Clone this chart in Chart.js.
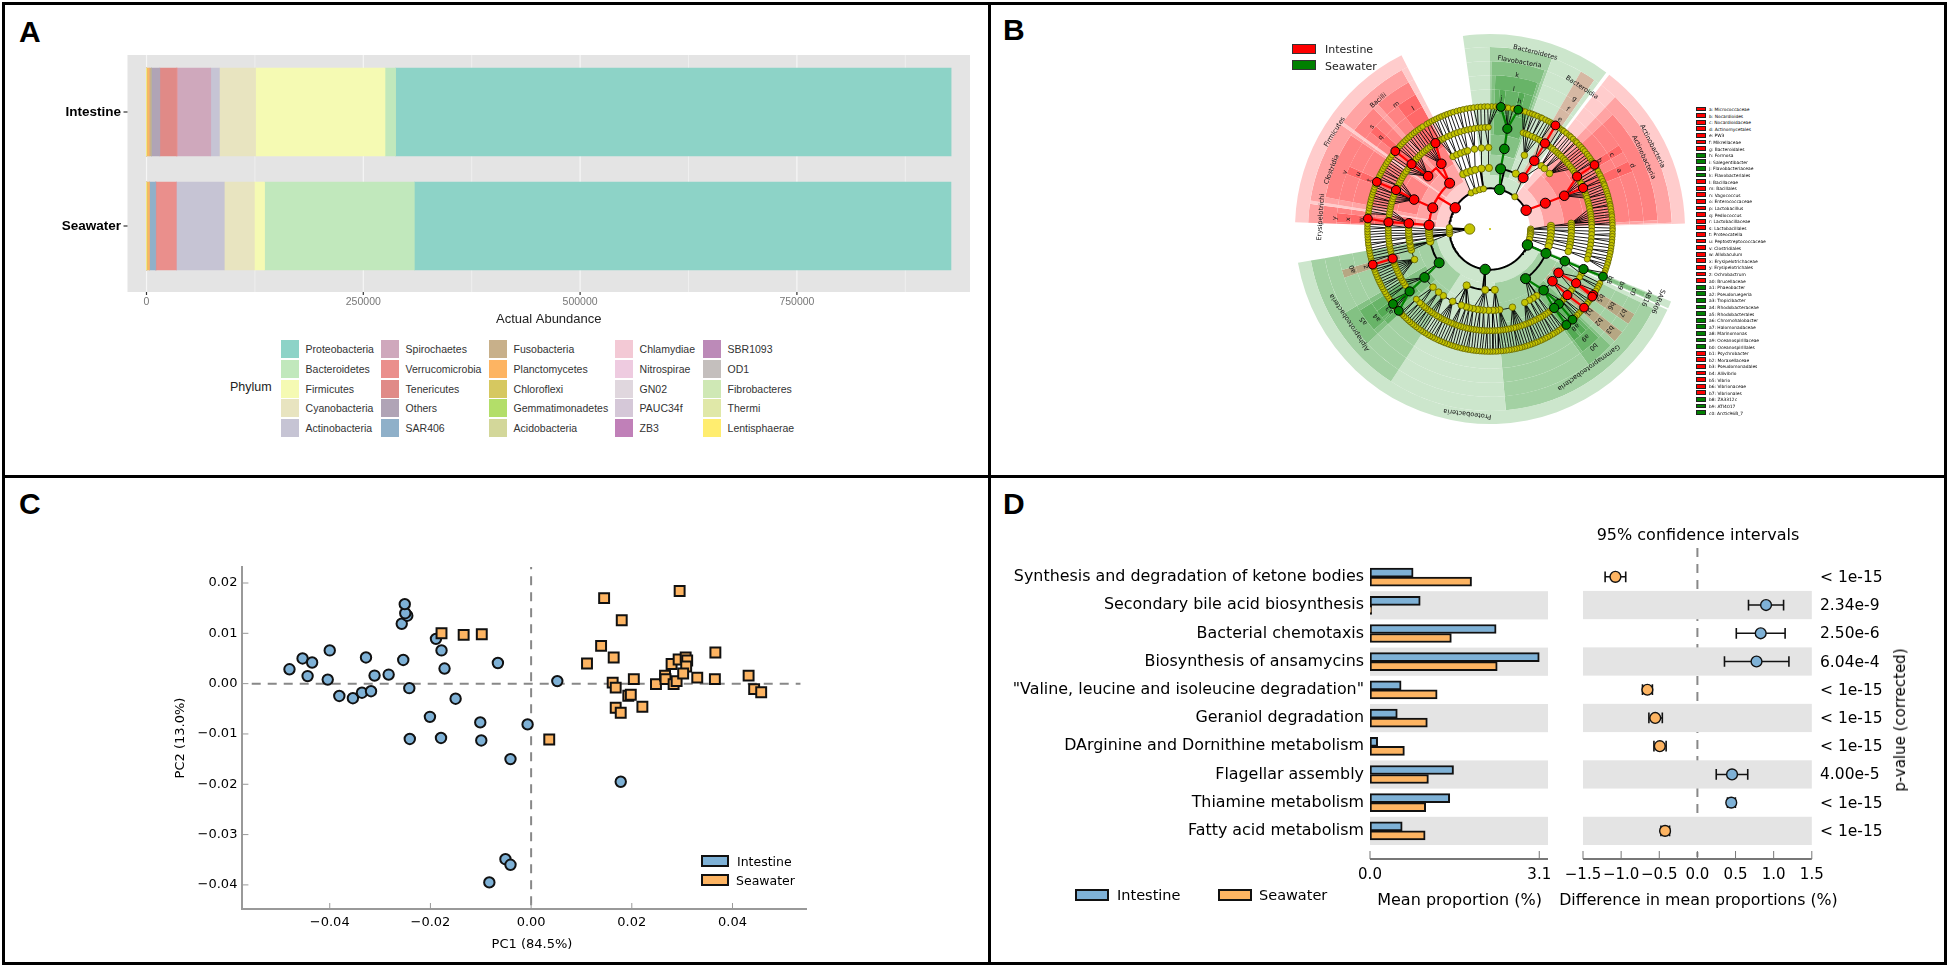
<!DOCTYPE html>
<html>
<head>
<meta charset="utf-8">
<title>Intestine and seawater microbiota</title>
<script src="https://cdn.jsdelivr.net/npm/chart.js@4"></script>
<style>
  html, body { margin: 0; padding: 0; background: #fff; }
  body { position: relative; width: 1949px; height: 969px; overflow: hidden; font-family: "DejaVu Sans", sans-serif; color: #000; }
  canvas { position: absolute; }
  .rule { position: absolute; background: #000; }
  .txt { position: absolute; white-space: nowrap; transform: translateY(-50%); }
  .swatch { position: absolute; box-sizing: border-box; }
</style>
</head>
<body>
<script>
// ---------- PANEL A: stacked abundance ----------
const phyla = ['Proteobacteria', 'Bacteroidetes', 'Firmicutes', 'Cyanobacteria', 'Actinobacteria',
  'Spirochaetes', 'Verrucomicrobia', 'Tenericutes', 'Others', 'SAR406',
  'Fusobacteria', 'Planctomycetes', 'Chloroflexi', 'Gemmatimonadetes', 'Acidobacteria',
  'Chlamydiae', 'Nitrospirae', 'GN02', 'PAUC34f', 'ZB3',
  'SBR1093', 'OD1', 'Fibrobacteres', 'Thermi', 'Lentisphaerae'];
const phylaColors = ['#8dd3c7', '#c1e8bc', '#f5fab3', '#e8e4c0', '#c6c4d4',
  '#cfa8bc', '#ea8f8c', '#e08a87', '#b0a4b6', '#8fb0c9',
  '#c8b08a', '#fdb462', '#d6c860', '#b3de69', '#d3d79a',
  '#f3c9d5', '#eecbe0', '#e0d7de', '#d5c8d8', '#c080b8',
  '#bc8ab8', '#c4bfbd', '#cfe8b5', '#e0e8a8', '#ffed6f'];
const abundanceSamples = ['Intestine', 'Seawater'];
const abundanceTicks = [0, 250000, 500000, 750000];
const intestineAbundance = [640500, 12300, 149200, 41700, 10000, 38800, 900, 19000, 9400, 300, 2600, 2700, 100, 50, 100, 30, 20, 20, 20, 10, 10, 10, 10, 10, 10];
const seawaterAbundance = [618800, 172700, 11750, 34700, 55300, 100, 23300, 200, 400, 7000, 100, 2700, 300, 50, 100, 30, 20, 20, 20, 10, 10, 10, 10, 10, 10];

// ---------- PANEL B: cladogram (angles in degrees, clockwise from the top) ----------
const ringRadii = [42, 63, 84, 105, 126.5];
const wedgeInner = [41, 55, 75, 95, 116];
const wedgeOuter = [195, 182, 168, 154, 140];
const phylumWedges = [[272, 333, 'R'], [352, 360, 'G'], [0, 36.6, 'G'], [37.7, 88.4, 'R'], [111.8, 114, 'G'], [114.5, 260, 'G']];
const classWedges = [[306, 331, 'R'], [279, 305, 'R'], [272, 278, 'R'], [0, 20, 'G'], [30, 35, 'R'], [43.5, 88, 'R'], [112, 114, 'G'], [116, 175, 'G'], [213, 260, 'G']];
const orderWedges = [[318, 331, 'R'], [306, 316, 'R'], [281, 304, 'R'], [272, 278, 'R'], [0.5, 19, 'G'], [47, 87, 'R'], [112.2, 113.8, 'G'], [120.5, 124.5, 'R'], [128, 132, 'R'], [134, 144, 'G'], [227, 240, 'G']];
const familyWedges = [[323, 331, 'R'], [309, 312, 'R'], [291, 294, 'R'], [272.5, 276, 'R'], [2, 18, 'G'], [57, 60, 'R'], [64, 68, 'R'], [135, 143, 'G'], [229, 238, 'G'], [251.5, 254.5, 'R']];
const genusWedges = [[4, 6.5, 'G'], [12, 14.5, 'G'], [136.5, 139, 'G'], [140, 143, 'G'], [230.5, 234, 'G'], [227, 229.5, 'G']];

const kingdomAngle = [270];
const phylumRed = [62.6, 301.4];
const phylumGreen = [13.7, 113.1, 186.8];
const phylumYellow = [37.6, 90, 92, 94, 96, 98, 101, 104.7, 263, 266, 269, 272, 332.4, 339.3, 345.2, 350.7];
const classRed = [32.9, 65, 273.6, 290.3, 318.6];
const classGreen = [10, 113.5, 144.4, 236.4];
const classYellow = [25, 87, 89, 91, 94, 97, 100, 103, 106.5, 175.5, 184.5, 202.5, 258, 261.5, 264, 266, 268, 270, 334, 338, 342, 346, 352, 359];
const orderRed = [33, 65.9, 122.6, 129.9, 274, 291.2, 310.5, 323.3];
const orderGreen = [10.2, 113.2, 138.8, 233.5];
const orderYellow = [25, 39, 42, 47, 86, 87.5, 89, 91, 92.5, 95, 97, 99, 101, 103, 106, 145, 148, 151, 154.7, 164, 173.2, 176, 178, 181, 184.5, 187, 189, 192, 194.7, 197, 200.6, 207.3, 215, 219.2, 224.4, 248, 255, 257, 258.7, 261, 262, 264, 265.7, 267, 269, 271, 333, 336, 339, 342, 344, 349, 354, 359];
const familyRed = [32.7, 58.9, 66.2, 122.2, 130.5, 253.1, 273.8, 292.5, 309.6, 327.6];
const familyGreen = [9.8, 113.2, 137.4, 140.9, 232.2];
const familyYellow = [19, 20.7, 22.1, 24.3, 26.2, 28.1, 29.6, 35.2, 37.1, 38.4, 40.2, 41.7, 43.1, 44.4, 46.2, 47.6, 49.1, 50.4, 52.2, 53.7, 55.1, 56.6, 60.7, 62.2, 63.6, 68.2, 69.7, 71.1, 72.4, 74.2, 75.6, 77.1, 78.4, 80.2, 81.7, 83.1, 84.6, 86.2, 87.4, 89.1, 91.2, 93.1, 95.3, 97.2, 99.1, 101.3, 103.2, 105.1, 107.2, 116.2, 118.3, 126.1, 127.6, 133.6, 135.1, 144.2, 145.6, 147.1, 148.7, 150.1, 151.6, 153.2, 154.4, 156.1, 157.6, 159.2, 160.4, 162.1, 163.7, 165.1, 166.4, 168.2, 169.6, 171.1, 172.7, 174.1, 175.4, 177.2, 178.6, 180.1, 181.7, 183.2, 184.4, 186.1, 187.6, 189.2, 190.7, 192.1, 193.4, 195.2, 196.6, 198.1, 199.7, 201.2, 202.4, 204.1, 205.6, 207.2, 208.7, 210.1, 211.4, 213.2, 214.6, 216.1, 217.7, 219.2, 220.4, 222.1, 223.6, 226.4, 236.2, 238.1, 239.6, 241.2, 242.4, 244.1, 245.6, 247.2, 248.7, 250.1, 251.4, 255.2, 257.1, 258.6, 260.2, 261.4, 263.1, 264.6, 266.2, 267.7, 269.1, 270.6, 272.1, 276.2, 278.1, 279.6, 281.2, 282.7, 284.1, 285.4, 287.2, 288.6, 290.1, 295.2, 297.1, 298.6, 300.2, 301.7, 303.1, 304.4, 306.2, 307.6, 312.1, 313.4, 315.2, 316.6, 318.1, 319.7, 321.2, 322.4, 324.1, 325.6, 330.2, 331.7, 333.1, 335.2, 337.1, 339.3, 341.2, 343.1, 345.3, 347.2, 349.1, 351.2, 353.4, 355.1, 357.2, 359.1];
const genusRed = [32.3, 58.5, 122.5, 123.5, 129.9, 253.1, 274.9, 292.6, 309.4];
const genusGreen = [5.1, 13.3, 112.8, 137.7, 141.5, 228.1, 232.3];
const genusYellow = [0.8, 2.6, 3.9, 7.3, 8.6, 10.9, 15.4, 16.8, 18.7, 20.1, 21.3, 22.8, 24.4, 25.2, 26.9, 28.4, 29.6, 30.8, 34.7, 36.2, 37.1, 38.6, 40.3, 41.2, 42.7, 44.3, 45.1, 46.8, 48.2, 49.4, 50.7, 52.3, 53.6, 54.9, 56.2, 57.1, 60.4, 61.8, 63.3, 64.2, 65.7, 67.1, 68.4, 69.2, 70.6, 71.9, 73.2, 74.4, 75.7, 76.9, 78.3, 79.1, 80.4, 81.8, 83.2, 84.1, 85.6, 86.9, 88.1, 89.6, 90.7, 92.2, 93.4, 94.8, 96.1, 97.6, 98.9, 100.3, 101.4, 102.9, 104.2, 105.6, 106.8, 108.3, 109.7, 110.9, 116.2, 117.6, 118.9, 120.3, 125.4, 126.7, 127.8, 132.3, 133.6, 134.7, 136.1, 139.5, 143.2, 144.4, 145.7, 146.9, 148.2, 149.3, 150.8, 151.9, 153.2, 154.6, 155.7, 157.1, 158.3, 159.6, 160.8, 162.1, 163.4, 164.7, 165.8, 167.2, 168.4, 169.7, 170.9, 172.2, 173.6, 174.8, 176.1, 177.2, 178.6, 179.9, 181.1, 182.4, 183.7, 184.8, 186.2, 187.5, 188.7, 190.1, 191.3, 192.6, 193.8, 195.2, 196.4, 197.7, 198.9, 200.2, 201.6, 202.8, 204.1, 205.3, 206.7, 207.9, 209.2, 210.4, 211.8, 213.1, 214.3, 215.6, 216.9, 218.2, 219.4, 220.7, 221.9, 223.2, 224.6, 225.8, 226.9, 229.9, 230.9, 234.2, 235.4, 236.7, 237.9, 239.2, 240.6, 241.8, 243.1, 244.3, 245.6, 246.9, 248.2, 249.4, 250.7, 251.8, 254.6, 255.8, 257.1, 258.4, 259.7, 260.9, 262.3, 263.4, 264.8, 266.1, 267.4, 268.6, 269.9, 271.2, 272.4, 277.2, 278.4, 279.7, 280.9, 282.2, 283.6, 284.8, 286.1, 287.4, 288.6, 289.9, 291.1, 294.2, 295.6, 296.9, 298.2, 299.4, 300.7, 301.9, 303.2, 304.6, 305.8, 307.1, 311.2, 312.6, 313.8, 315.1, 316.4, 317.7, 318.9, 320.2, 321.6, 322.8, 324.1, 325.4, 326.7, 328.9, 330.2, 331.6, 332.8, 334.1, 335.4, 336.7, 338.2, 339.6, 341.1, 342.6, 344.3, 345.8, 347.4, 349.1, 350.7, 352.3, 354.1, 355.7, 357.4, 358.9];

const wedgeLabels = ['Bacteroidetes', 'Flavobacteria', 'k', 'l', 'j', 'h', 'Bacteroidia', 'g', 'f', 'e', 'Actinobacteria', 'Actinobacteria', 'd', 'a', 'c', 'b', 'Firmicutes', 'Bacilli', 'm', 'l', 's', 'q', 'Clostridia', 'v', 'u', 't', 'Erysipelotrichi', 'y', 'x', 'w', 'a0', 'z', 'Alphaproteobacteria', 'a5', 'a4', 'a3', 'Proteobacteria', 'Gammaproteobacteria', 'b0', 'a9', 'a8', 'SAR406', 'AB16', 'c0', 'b9', 'b8', 'b7', 'b6', 'b5', 'b3', 'b2', 'b1'];
const wedgeLabelRadius = [188, 175, 161, 146, 135, 135, 174, 160, 147, 134, 188, 175, 160.5, 146, 147, 133, 189, 175.6, 160.6, 147, 161, 147, 174.5, 160.5, 147, 134, 175, 160.4, 146.5, 133, 147.6, 134, 174, 161.4, 148, 133, 192, 175.5, 161.6, 149, 134, 188.7, 176.7, 161, 147, 134, 161.7, 148, 134, 161, 147, 133];
const wedgeLabelAngle = [14.4, 10, 10, 9.6, 5, 13, 33, 33, 33, 32.6, 63, 65, 66, 65.6, 58.7, 58, 302, 319, 323, 327.5, 310.9, 310, 290.6, 291.4, 292.6, 292, 274, 274, 274, 274, 253.7, 253, 236.4, 234, 231.9, 231, 187, 144.6, 138.7, 138.8, 139, 113.3, 113.8, 113.6, 113.3, 113, 122.3, 122.3, 122, 130, 130.5, 130];

const cladeKeys = ['a: Micrococcaceae', 'b: Nocardioides', 'c: Nocardioidaceae', 'd: Actinomycetales', 'e: PW3', 'f: Mikrellaceae', 'g: Bacteroidales', 'h: Formosa', 'i: Salegentibacter', 'j: Flavobacteriaceae', 'k: Flavobacteriales', 'l: Bacillaceae', 'm: Bacillales', 'n: Vagococcus', 'o: Enterococcaceae', 'p: Lactobacillus', 'q: Pediococcus', 'r: Lactobacillaceae', 's: Lactobacillales', 't: Proteocatella', 'u: Peptostreptococcaceae', 'v: Clostridiales', 'w: Allobaculum', 'x: Erysipelotrichaceae', 'y: Erysipelotrichales', 'z: Ochrobactrum', 'a0: Brucellaceae', 'a1: Phaeobacter', 'a2: Pseudoruegeria', 'a3: Tropicibacter', 'a4: Rhodobacteraceae', 'a5: Rhodobacterales', 'a6: Chromohalobacter', 'a7: Halomonadaceae', 'a8: Marinomonas', 'a9: Oceanospirillaceae', 'b0: Oceanospirillales', 'b1: Psychrobacter', 'b2: Moraxellaceae', 'b3: Pseudomonadales', 'b4: Aliivibrio', 'b5: Vibrio', 'b6: Vibrionaceae', 'b7: Vibrionales', 'b8: ZA3312c', 'b9: ATI4017', 'c0: Arctic96B_7'];
const cladeKeyGroups = ['R', 'R', 'R', 'R', 'R', 'R', 'R', 'G', 'G', 'G', 'G', 'R', 'R', 'R', 'R', 'R', 'R', 'R', 'R', 'R', 'R', 'R', 'R', 'R', 'R', 'R', 'R', 'G', 'G', 'G', 'G', 'G', 'G', 'G', 'G', 'G', 'G', 'R', 'R', 'R', 'R', 'R', 'R', 'R', 'G', 'G', 'G'];

// ---------- PANEL C: PCoA ----------
const pc1Ticks = [-0.04, -0.02, 0, 0.02, 0.04];
const pc2Ticks = [-0.04, -0.03, -0.02, -0.01, 0, 0.01, 0.02];
const intestinePC1 = [-0.048, -0.0454, -0.0435, -0.0444, -0.04, -0.0404, -0.0381, -0.0354, -0.0336, -0.0318, -0.0328, -0.0311, -0.0283, -0.0254, -0.0257, -0.0246, -0.025, -0.0251, -0.0242, -0.0189, -0.0178, -0.0172, -0.015, -0.0201, -0.0241, -0.0179, -0.0101, -0.0099, -0.0066, -0.0007, -0.0041, 0.0052, 0.0178, -0.0051, -0.0041, -0.0083];
const intestinePC2 = [0.00285, 0.005, 0.0042, 0.0015, 0.0066, 0.0008, -0.00245, -0.0029, -0.0018, -0.0015, 0.0052, 0.0016, 0.0018, 0.0047, 0.0119, 0.0135, 0.014, 0.0158, -0.0009, 0.0089, 0.0066, 0.003, -0.003, -0.0066, -0.011, -0.0108, -0.0077, -0.0113, 0.0041, -0.0081, -0.015, 0.0005, -0.0195, -0.0349, -0.036, -0.0395];
const seawaterPC1 = [-0.0178, -0.0134, -0.0098, 0.0036, 0.0111, 0.0139, 0.0145, 0.018, 0.0164, 0.0162, 0.0168, 0.0168, 0.0178, 0.0193, 0.0198, 0.0221, 0.0204, 0.0248, 0.0266, 0.0267, 0.0283, 0.0289, 0.0279, 0.0293, 0.0307, 0.031, 0.0308, 0.0302, 0.033, 0.0365, 0.0366, 0.0295, 0.0432, 0.0443, 0.0457];
const seawaterPC2 = [0.01, 0.0097, 0.0098, -0.0111, 0.004, 0.0075, 0.017, 0.0126, 0.0052, 0.0002, -0.0008, -0.0048, -0.0058, -0.0024, -0.0022, -0.0046, 0.0009, -0.0001, 0.0016, 0.0009, -0.0001, 0.0005, 0.0039, 0.0048, 0.0052, 0.0046, 0.0034, 0.002, 0.0012, 0.0009, 0.0062, 0.0184, 0.0016, -0.0011, -0.0017];

// ---------- PANEL D: functional differences ----------
const pathways = ['Synthesis and degradation of ketone bodies', 'Secondary bile acid biosynthesis', 'Bacterial chemotaxis', 'Biosynthesis of ansamycins', '"Valine, leucine and isoleucine degradation"', 'Geraniol degradation', 'DArginine and Dornithine metabolism', 'Flagellar assembly', 'Thiamine metabolism', 'Fatty acid metabolism'];
const meanIntestine = [0.79, 0.92, 2.31, 3.1, 0.57, 0.5, 0.14, 1.53, 1.46, 0.59];
const meanSeawater = [1.86, 0.03, 1.49, 2.33, 1.23, 1.05, 0.63, 1.07, 1.02, 1.01];
const meanTicks = [0, 3.1];
const diffTicks = [-1.5, -1, -0.5, 0, 0.5, 1, 1.5];
const diffMean = [-1.075, 0.9, 0.83, 0.775, -0.656, -0.553, -0.493, 0.454, 0.444, -0.424];
const diffLow = [-1.21, 0.67, 0.51, 0.355, -0.72, -0.636, -0.57, 0.247, 0.395, -0.478];
const diffHigh = [-0.94, 1.13, 1.15, 1.2, -0.59, -0.46, -0.41, 0.66, 0.498, -0.365];
const pValues = ['< 1e-15', '2.34e-9', '2.50e-6', '6.04e-4', '< 1e-15', '< 1e-15', '< 1e-15', '4.00e-5', '< 1e-15', '< 1e-15'];

const BLUE = '#7eb1d6';
const ORANGE = '#fdb462';
const DEJAVU = '"DejaVu Sans"';
const LIBERATION = '"Liberation Sans"';

Chart.defaults.animation = false;
Chart.defaults.responsive = false;
Chart.defaults.devicePixelRatio = 1;
Chart.defaults.font.family = DEJAVU;
Chart.defaults.color = '#000';
Chart.defaults.plugins.legend.display = false;
Chart.defaults.plugins.tooltip.enabled = false;

// page furniture
const addCanvas = (left, top, width, height) => {
  const c = document.createElement('canvas');
  c.width = width; c.height = height;
  c.style.left = left + 'px'; c.style.top = top + 'px';
  c.style.width = width + 'px'; c.style.height = height + 'px';
  document.body.appendChild(c);
  return c;
};
const addRule = (left, top, width, height) => {
  const d = document.createElement('div');
  d.className = 'rule';
  d.style.cssText = `left:${left}px;top:${top}px;width:${width}px;height:${height}px`;
  document.body.appendChild(d);
};
const addText = (text, left, top, font, extra = '') => {
  const d = document.createElement('div');
  d.className = 'txt';
  d.textContent = text;
  d.style.cssText = `left:${left}px;top:${top}px;font:${font};${extra}`;
  document.body.appendChild(d);
};
const addSwatch = (left, top, width, height, fill, border = 'none') => {
  const d = document.createElement('div');
  d.className = 'swatch';
  d.style.cssText = `left:${left}px;top:${top}px;width:${width}px;height:${height}px;background:${fill};border:${border}`;
  document.body.appendChild(d);
};
const centered = 'transform:translate(-50%,-50%)';

addRule(2, 2, 1945, 3); addRule(2, 962, 1945, 3); addRule(2, 2, 3, 963); addRule(1944, 2, 3, 963);
addRule(988, 2, 3, 963); addRule(2, 475, 1945, 3);
const panelFont = `bold 30px ${LIBERATION}`;
addText('A', 19, 32, panelFont); addText('B', 1003, 30, panelFont);
addText('C', 19, 504, panelFont); addText('D', 1003, 504, panelFont);

const fixedX = (height) => (scale) => { scale.height = height; scale.paddingLeft = 0; scale.paddingRight = 0; };
const fixedY = (width) => (scale) => { scale.width = width; scale.paddingTop = 0; scale.paddingBottom = 0; };
const tickList = (values) => (scale) => { scale.ticks = values.map((value) => ({ value })); };
const noGrid = { display: false, drawTicks: false };

// ---------- A ----------
const abundanceBackdrop = {
  id: 'abundanceBackdrop',
  beforeDatasetsDraw(chart) {
    const { ctx, scales: { x, y }, chartArea: a } = chart;
    ctx.save();
    ctx.fillStyle = '#e4e4e4';
    ctx.fillRect(a.left, a.top - 1, a.right - a.left, a.bottom - a.top + 10);
    const halfStep = (x.getPixelForValue(abundanceTicks[1]) - x.getPixelForValue(abundanceTicks[0])) / 2;
    x.ticks.forEach((t) => {
      const px = x.getPixelForValue(t.value);
      ctx.strokeStyle = '#efefef'; ctx.lineWidth = 1;
      ctx.beginPath(); ctx.moveTo(px + halfStep, a.top - 1); ctx.lineTo(px + halfStep, a.bottom + 9); ctx.stroke();
      ctx.strokeStyle = '#f6f6f6'; ctx.lineWidth = 1.2;
      ctx.beginPath(); ctx.moveTo(px, a.top - 1); ctx.lineTo(px, a.bottom + 9); ctx.stroke();
      ctx.strokeStyle = '#333'; ctx.lineWidth = 1.2;
      ctx.beginPath(); ctx.moveTo(px, a.bottom + 9); ctx.lineTo(px, a.bottom + 12); ctx.stroke();
    });
    y.ticks.forEach((t, i) => {
      const py = y.getPixelForTick(i);
      ctx.strokeStyle = '#333'; ctx.lineWidth = 1.2;
      ctx.beginPath(); ctx.moveTo(a.left - 4, py); ctx.lineTo(a.left, py); ctx.stroke();
    });
    ctx.restore();
  }
};
new Chart(addCanvas(30, 55, 940, 275), {
  type: 'bar',
  data: {
    labels: abundanceSamples,
    datasets: phyla.map((name, i) => ({
      label: name,
      data: [intestineAbundance[i], seawaterAbundance[i]],
      backgroundColor: phylaColors[i],
      barThickness: 88,
      borderWidth: 0
    })).reverse()
  },
  options: {
    indexAxis: 'y',
    scales: {
      x: {
        stacked: true, bounds: 'data', min: -21900, max: 949600,
        grid: noGrid, border: { display: false },
        afterBuildTicks: tickList(abundanceTicks),
        ticks: { padding: 13, color: '#777', font: { family: LIBERATION, size: 10.5 }, maxRotation: 0, callback: (v) => String(v) },
        title: { display: true, text: 'Actual Abundance', color: '#222', font: { family: LIBERATION, size: 13 }, padding: { top: 0, bottom: 3 } },
        afterFit: fixedX(47)
      },
      y: {
        stacked: true,
        grid: noGrid, border: { display: false },
        ticks: { padding: 6.5, font: { family: LIBERATION, size: 13.5, weight: 'bold' } },
        afterFit: fixedY(97.5)
      }
    }
  },
  plugins: [abundanceBackdrop]
});
const legendColumnX = [281, 381, 489, 615, 703];
const legendRowY = [340, 360, 379.5, 399, 418.5];
phyla.forEach((name, i) => {
  const col = Math.floor(i / 5), row = i % 5;
  addSwatch(legendColumnX[col], legendRowY[row], 18, 18, phylaColors[i]);
  addText(name, legendColumnX[col] + 24.6, legendRowY[row] + 9, `10.5px ${LIBERATION}`, 'color:#333');
});
addText('Phylum', 230, 387, `12.5px ${LIBERATION}`, 'color:#222');

// ---------- B ----------
const RGB = { R: [255, 0, 0], G: [0, 128, 0] };
const wedgeLevels = [phylumWedges, classWedges, orderWedges, familyWedges, genusWedges];
const ringEdges = [195, 182, 168, 154, 140, 116, 95, 75, 55, 41];
const composite = (groups) => {
  if (!groups.length) return 'rgba(0,0,0,0)';
  const c = groups.reduce((acc, g) => acc.map((v, i) => v * 0.8 + RGB[g][i] * 0.2), [255, 255, 255]);
  return `rgb(${c.map(Math.round).join(',')})`;
};
const wedgeRings = [];
for (let i = 0; i < ringEdges.length - 1; i++) {
  const outer = ringEdges[i], inner = ringEdges[i + 1];
  const cover = [];
  wedgeLevels.forEach((wedges, lvl) => {
    if (wedgeInner[lvl] <= inner && wedgeOuter[lvl] >= outer) wedges.forEach((w) => cover.push(w));
  });
  const cuts = [...new Set([0, 360, ...cover.flatMap((w) => [w[0], w[1]])])].sort((p, q) => p - q);
  const data = [], colors = [];
  for (let k = 0; k < cuts.length - 1; k++) {
    const mid = (cuts[k] + cuts[k + 1]) / 2;
    data.push(cuts[k + 1] - cuts[k]);
    colors.push(composite(cover.filter((w) => w[0] < mid && mid < w[1]).map((w) => w[2])));
  }
  wedgeRings.push({ data, backgroundColor: colors, borderWidth: 0, weight: outer - inner });
}
new Chart(addCanvas(1290, 29, 400, 400), {
  type: 'doughnut',
  data: { datasets: wedgeRings },
  options: { radius: 195, cutout: 41, layout: { padding: 0 } }
});

const toXY = (r, a) => ({ x: r * Math.sin(a * Math.PI / 180), y: r * Math.cos(a * Math.PI / 180) });
const angleGap = (p, q) => { const d = Math.abs(p - q) % 360; return d > 180 ? 360 - d : d; };
const treeLevels = [
  { red: phylumRed, green: phylumGreen, yellow: phylumYellow },
  { red: classRed, green: classGreen, yellow: classYellow },
  { red: orderRed, green: orderGreen, yellow: orderYellow },
  { red: familyRed, green: familyGreen, yellow: familyYellow },
  { red: genusRed, green: genusGreen, yellow: genusYellow }
];
const edgeRed = [], edgeGreen = [], edgeHeavy = [], edgeMid = [], edgeThin = [];
const pushEdge = (out, rp, ap, r, a) => {
  let d = (a - ap) % 360;
  if (d > 180) d -= 360;
  if (d < -180) d += 360;
  out.push(toXY(rp, ap));
  if (Math.abs(d) > 8) {
    const steps = Math.ceil(Math.abs(d) / 2);
    for (let s = 0; s <= steps; s++) out.push(toXY(r, ap + d * s / steps));
  }
  out.push(toXY(r, a), { x: NaN, y: NaN });
};
treeLevels.forEach((lvl, i) => {
  const r = ringRadii[i];
  const rp = i === 0 ? 21 : ringRadii[i - 1];
  const up = i === 0 ? { red: [], green: [], yellow: kingdomAngle } : treeLevels[i - 1];
  const allUp = [...up.red, ...up.green, ...up.yellow];
  const nearest = (a, list) => list.reduce((b, v) => (angleGap(a, v) < angleGap(a, b) ? v : b), list[0]);
  // long arcs near the centre are heavy, the short fans further out are hairlines
  const plainFor = (a, parent) => {
    if (angleGap(a, parent) > 8 && i < 2) return edgeHeavy;
    return i < 3 ? edgeMid : edgeThin;
  };
  lvl.yellow.forEach((a) => {
    const p = nearest(a, allUp);
    pushEdge(plainFor(a, p), rp, p, r, a);
  });
  [['red', edgeRed], ['green', edgeGreen]].forEach(([group, out]) => {
    lvl[group].forEach((a) => {
      const same = up[group].length ? nearest(a, up[group]) : null;
      if (same !== null && angleGap(a, same) < 28.5) pushEdge(out, rp, same, r, a);
      else {
        const p = nearest(a, allUp);
        pushEdge(plainFor(a, p), rp, p, r, a);
      }
    });
  });
});
const nodeSet = (pts, radius, fill, edge, width) => ({
  data: pts, showLine: false, pointRadius: radius, pointBackgroundColor: fill,
  pointBorderColor: edge, pointBorderWidth: width
});
const edgeSet = (pts, color, width) => ({
  data: pts, showLine: true, pointRadius: 0, borderColor: color, borderWidth: width, spanGaps: false
});
const coloredRadius = [5.2, 5, 4.8, 4.6, 4.4];
const yellowRadius = [3.1, 3.6, 3.3, 3, 2.8];
const OLIVE = '#c4c400', OLIVE_EDGE = '#626200';
const nodeSets = [];
treeLevels.forEach((lvl, i) => {
  nodeSets.push(nodeSet(lvl.red.map((a) => toXY(ringRadii[i], a)), coloredRadius[i], '#ff0000', '#000', 1));
  nodeSets.push(nodeSet(lvl.green.map((a) => toXY(ringRadii[i], a)), coloredRadius[i], '#008000', '#000', 1));
});
treeLevels.forEach((lvl, i) => {
  nodeSets.push(nodeSet(lvl.yellow.map((a) => toXY(ringRadii[i], a)), yellowRadius[i], OLIVE, OLIVE_EDGE, 0.8));
});
nodeSets.push(nodeSet(kingdomAngle.map((a) => toXY(21, a)), 5.2, OLIVE, OLIVE_EDGE, 0.8));
nodeSets.push(nodeSet([{ x: 0, y: 0 }], 1.1, OLIVE, OLIVE, 0));
const wedgeText = {
  id: 'wedgeText',
  afterDatasetsDraw(chart) {
    const { ctx, scales: { x, y } } = chart;
    ctx.save();
    ctx.font = `6.6px ${DEJAVU}`;
    ctx.fillStyle = '#111';
    ctx.textAlign = 'center'; ctx.textBaseline = 'middle';
    wedgeLabels.forEach((t, i) => {
      const p = toXY(wedgeLabelRadius[i], wedgeLabelAngle[i]);
      ctx.save();
      ctx.translate(x.getPixelForValue(p.x), y.getPixelForValue(p.y));
      ctx.rotate(wedgeLabelAngle[i] * Math.PI / 180);
      ctx.fillText(t, 0, 0);
      ctx.restore();
    });
    ctx.restore();
  }
};
new Chart(addCanvas(1290, 29, 400, 400), {
  type: 'scatter',
  data: {
    datasets: [
      ...nodeSets,
      edgeSet(edgeRed, '#ff0000', 2.2), edgeSet(edgeGreen, '#008000', 2.2),
      edgeSet(edgeHeavy, '#000', 1.9), edgeSet(edgeMid, '#000', 0.9), edgeSet(edgeThin, '#000', 0.9)
    ]
  },
  options: {
    layout: { padding: 0 },
    scales: { x: { display: false, min: -200, max: 200 }, y: { display: false, min: -200, max: 200 } }
  },
  plugins: [wedgeText]
});
addSwatch(1292, 44, 24, 10, '#ff0000', '1px solid #333');
addSwatch(1292, 60, 24, 10, '#008000', '1px solid #333');
addText('Intestine', 1325, 49, `11px ${DEJAVU}`, 'color:#222');
addText('Seawater', 1325, 65.5, `11px ${DEJAVU}`, 'color:#222');
cladeKeys.forEach((name, i) => {
  const cy = 109 + i * 6.6;
  addSwatch(1696, cy - 2.4, 10, 4.8, cladeKeyGroups[i] === 'R' ? '#ff0000' : '#008000', '1px solid #222');
  addText(name, 1709, cy, `4.4px ${DEJAVU}`);
});

// ---------- C ----------
const innerTicks = {
  id: 'innerTicks',
  afterDraw(chart) {
    const { ctx, scales: { x, y }, chartArea: a } = chart;
    ctx.save();
    ctx.strokeStyle = '#999'; ctx.lineWidth = 1;
    x.ticks.forEach((t) => {
      const px = x.getPixelForValue(t.value);
      ctx.beginPath(); ctx.moveTo(px, a.bottom); ctx.lineTo(px, a.bottom - 6); ctx.stroke();
    });
    y.ticks.forEach((t) => {
      const py = y.getPixelForValue(t.value);
      ctx.beginPath(); ctx.moveTo(a.left, py); ctx.lineTo(a.left + 6, py); ctx.stroke();
    });
    ctx.restore();
  }
};
const zip = (xs, ys) => xs.map((v, i) => ({ x: v, y: ys[i] }));
const minusTick = (digits) => (v) => (Math.abs(v) < 1e-9 ? (0).toFixed(digits) : v.toFixed(digits).replace('-', '\u2212'));
const guideSet = (pts) => ({ data: pts, showLine: true, pointRadius: 0, borderColor: '#888', borderWidth: 2, borderDash: [9, 7] });
new Chart(addCanvas(170, 558, 645, 402), {
  type: 'scatter',
  data: {
    datasets: [
      { data: zip(seawaterPC1, seawaterPC2), pointStyle: 'rect', pointRadius: 7, pointBackgroundColor: ORANGE, pointBorderColor: '#111', pointBorderWidth: 2 },
      { data: zip(intestinePC1, intestinePC2), pointStyle: 'circle', pointRadius: 5.2, pointBackgroundColor: BLUE, pointBorderColor: '#111', pointBorderWidth: 2 },
      guideSet([{ x: -0.0555, y: 0 }, { x: 0.0535, y: 0 }]),
      guideSet([{ x: 0, y: 0.0245 }, { x: 0, y: -0.0445 }])
    ]
  },
  options: {
    layout: { padding: { right: 7.4 } },
    scales: {
      x: {
        bounds: 'data', min: -0.05735, max: 0.0546,
        grid: noGrid, border: { color: '#999', width: 2 },
        afterBuildTicks: tickList(pc1Ticks),
        ticks: { padding: 6, font: { size: 13 }, maxRotation: 0, callback: minusTick(2) },
        afterFit: fixedX(51)
      },
      y: {
        // the scale insets its pixel range by half a label, so this range is a bit narrower than the drawn spine
        bounds: 'data', min: -0.04479, max: 0.02318,
        grid: noGrid, border: { color: '#999', width: 2 },
        afterBuildTicks: tickList(pc2Ticks),
        ticks: { padding: 5, font: { size: 13 }, callback: minusTick(2) },
        title: { display: true, text: 'PC2 (13.0%)', font: { size: 13 }, padding: { top: 3, bottom: 0 } },
        afterFit: fixedY(72.4)
      }
    }
  },
  plugins: [innerTicks]
});
addText('PC1 (84.5%)', 532, 943, `13px ${DEJAVU}`, centered);
addSwatch(701, 855, 28, 12, BLUE, '2px solid #111');
addSwatch(701, 874, 28, 12, ORANGE, '2px solid #111');
addText('Intestine', 737, 861, `12.5px ${DEJAVU}`);
addText('Seawater', 736, 880, `12.5px ${DEJAVU}`);

// ---------- D ----------
const rowBands = (axisY, canvasTop) => ({
  id: 'rowBands',
  beforeDatasetsDraw(chart) {
    const { ctx, chartArea: a } = chart;
    const rowH = (a.bottom - a.top) / pathways.length;
    ctx.save();
    ctx.fillStyle = '#e4e4e4';
    pathways.forEach((p, i) => {
      if (i % 2) ctx.fillRect(a.left, a.top + i * rowH, a.right - a.left, rowH);
    });
    ctx.restore();
  },
  afterDraw(chart) {
    const { ctx, scales: { x }, chartArea: a } = chart;
    const py = axisY - canvasTop;
    ctx.save();
    ctx.strokeStyle = '#777'; ctx.lineWidth = 2;
    ctx.beginPath(); ctx.moveTo(a.left, py); ctx.lineTo(a.right, py); ctx.stroke();
    ctx.lineWidth = 1;
    x.ticks.forEach((t) => {
      const px = x.getPixelForValue(t.value);
      ctx.beginPath(); ctx.moveTo(px, py); ctx.lineTo(px, py - 8); ctx.stroke();
    });
    ctx.restore();
  }
});
const meanCanvasTop = 563;
new Chart(addCanvas(1000, meanCanvasTop, 560, 352), {
  type: 'bar',
  data: {
    labels: pathways,
    datasets: [
      { data: meanIntestine, backgroundColor: BLUE, borderColor: '#111', borderWidth: 2, barThickness: 9, borderSkipped: false },
      { data: meanSeawater, backgroundColor: ORANGE, borderColor: '#111', borderWidth: 2, barThickness: 9, borderSkipped: false }
    ]
  },
  options: {
    indexAxis: 'y',
    layout: { padding: { right: 12 } },
    scales: {
      x: {
        bounds: 'data', min: 0, max: 3.26,
        grid: noGrid, border: { display: false },
        afterBuildTicks: tickList(meanTicks),
        ticks: { padding: 21, font: { size: 15 }, autoSkip: false, maxRotation: 0, callback: (v) => v.toFixed(1) },
        afterFit: fixedX(70)
      },
      y: {
        grid: noGrid, border: { display: false },
        ticks: { padding: 6, font: { size: 15.9 }, autoSkip: false },
        afterFit: fixedY(370)
      }
    }
  },
  plugins: [rowBands(859, meanCanvasTop)]
});

const errorBars = [];
const capHalf = 0.19;
diffMean.forEach((m, i) => {
  errorBars.push({ x: diffLow[i], y: i }, { x: diffHigh[i], y: i }, { x: NaN, y: NaN });
  errorBars.push({ x: diffLow[i], y: i - capHalf }, { x: diffLow[i], y: i + capHalf }, { x: NaN, y: NaN });
  errorBars.push({ x: diffHigh[i], y: i - capHalf }, { x: diffHigh[i], y: i + capHalf }, { x: NaN, y: NaN });
});
const diffCanvasTop = 540;
const diffOverlay = {
  id: 'diffOverlay',
  afterDatasetsDraw(chart) {
    const { ctx, scales: { y } } = chart;
    ctx.save();
    ctx.fillStyle = '#000';
    ctx.font = `15.5px ${DEJAVU}`;
    ctx.textBaseline = 'middle';
    pValues.forEach((p, i) => ctx.fillText(p, 1820 - 1560, y.getPixelForValue(i) + 1));
    ctx.restore();
  },
  beforeDatasetsDraw(chart) {
    const { ctx, scales: { x } } = chart;
    const px = x.getPixelForValue(0);
    ctx.save();
    ctx.strokeStyle = '#888'; ctx.lineWidth = 2; ctx.setLineDash([9, 7]);
    ctx.beginPath(); ctx.moveTo(px, 548 - diffCanvasTop); ctx.lineTo(px, 857 - diffCanvasTop); ctx.stroke();
    ctx.restore();
  }
};
new Chart(addCanvas(1560, diffCanvasTop, 385, 375), {
  type: 'scatter',
  data: {
    datasets: [
      { data: diffMean.map((m, i) => ({ x: m, y: i })), pointRadius: 5.4, pointBackgroundColor: diffMean.map((m) => (m > 0 ? BLUE : ORANGE)), pointBorderColor: '#111', pointBorderWidth: 1.4 },
      { data: errorBars, showLine: true, pointRadius: 0, borderColor: '#111', borderWidth: 1.6, spanGaps: false }
    ]
  },
  options: {
    layout: { padding: { left: 23, right: 133.2, top: 22.7 } },
    scales: {
      x: {
        bounds: 'data', min: -1.5, max: 1.5,
        grid: noGrid, border: { display: false },
        afterBuildTicks: tickList(diffTicks),
        ticks: { padding: 21, font: { size: 15 }, autoSkip: false, maxRotation: 0, callback: minusTick(1) },
        afterFit: fixedX(70)
      },
      y: { display: false, reverse: true, min: -0.5, max: 9.5 }
    }
  },
  plugins: [diffOverlay, rowBands(859, diffCanvasTop)]
});
addText('Mean proportion (%)', 1459.6, 899, `16px ${DEJAVU}`, centered);
addText('Difference in mean proportions (%)', 1698.5, 899, `15.8px ${DEJAVU}`, centered);
addText('95% confidence intervals', 1698, 534, `16px ${DEJAVU}`, centered);
addText('p-value (corrected)', 1900, 720, `15px ${DEJAVU}`, 'transform:translate(-50%,-50%) rotate(-90deg)');
addSwatch(1075, 889, 34, 12, BLUE, '2px solid #111');
addSwatch(1218, 889, 34, 12, ORANGE, '2px solid #111');
addText('Intestine', 1117, 895, `14.5px ${DEJAVU}`);
addText('Seawater', 1259, 895, `14.5px ${DEJAVU}`);
</script>
</body>
</html>
